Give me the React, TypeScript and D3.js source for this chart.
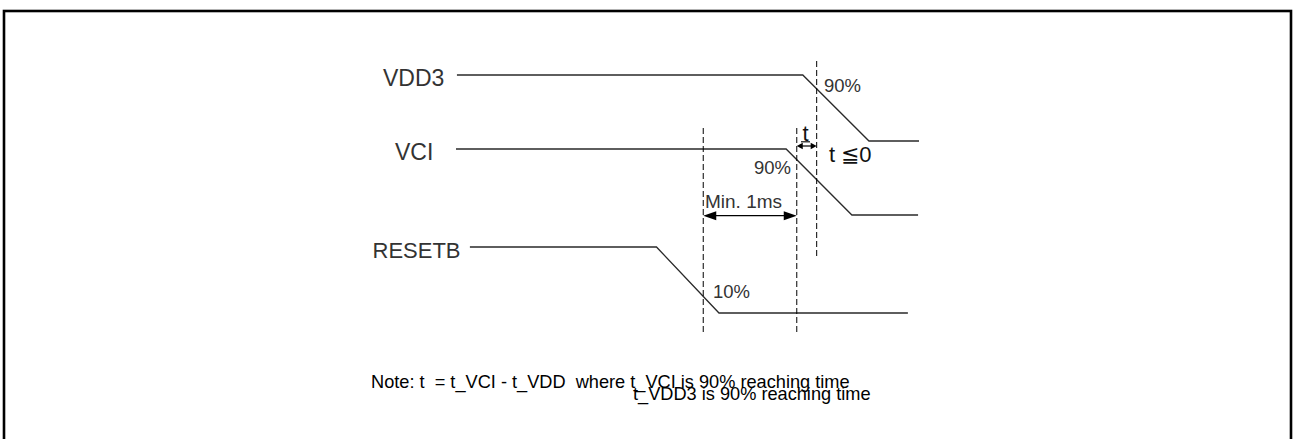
import React from "react";
import * as d3 from "d3";

// ---- data (time in arbitrary units, level 1 = high, 0 = low) ----
const signalNames = ["VDD3", "VCI", "RESETB"];
const signalTimes = [
  [0.2, 74.9, 89.2, 100],
  [0, 71.3, 85.5, 99.8],
  [3.0, 43.3, 56.8, 97.6],
];
const signalLevels = [1, 1, 0, 0];
const markerTimes = [53.4, 73.6, 77.9]; // RESETB 10%, VCI 90%, VDD3 90%
const levelLabels = ["90%", "90%", "10%"];
const noteLines = [
  "Note: t  = t_VCI - t_VDD  where t_VCI is 90% reaching time",
  "t_VDD3 is 90% reaching time",
];

const W = 1294;
const H = 439;

export default function App() {
  const x = d3.scaleLinear().domain([0, 100]).range([456, 919]);
  const rowTop = [75, 149, 247];
  const amp = 66;
  const yRow = (i: number) =>
    d3.scaleLinear().domain([0, 1]).range([rowTop[i] + amp, rowTop[i]]);

  const line = d3.line<[number, number]>();
  const labelX = [383, 395, 372.5];
  const labelSize = [23, 23, 22];
  const labelFont = "'Liberation Sans', Arial, sans-serif";
  const sigStroke = "#2a2a2a";

  const head = (tipX: number, y: number, dir: number, len: number, hw: number) =>
    `M${tipX},${y}L${tipX - dir * len},${y - hw}L${tipX - dir * len},${y + hw}Z`;

  const mA = x(markerTimes[0]);
  const mB = x(markerTimes[1]);
  const mC = x(markerTimes[2]);
  const arrowY = 215.7;
  const tY = 146;

  return (
    <svg
      width={W}
      height={H}
      style={{ position: "absolute", left: 0, top: 0, display: "block", background: "#fff" }}
    >
      <rect x={4} y={11} width={1287} height={460} fill="none" stroke="#000" strokeWidth={2.6} />

      {signalNames.map((name, i) => {
        const y = yRow(i);
        const pts = signalTimes[i].map((t, j) => [x(t), y(signalLevels[j])] as [number, number]);
        return (
          <g key={name}>
            <path d={line(pts) || ""} fill="none" stroke={sigStroke} strokeWidth={1.3} />
            <text
              x={labelX[i]}
              y={rowTop[i] + 11}
              fontFamily={labelFont}
              fontSize={labelSize[i]}
              fill="#333"
            >
              {name}
            </text>
          </g>
        );
      })}

      {/* dashed markers */}
      <line x1={mA} x2={mA} y1={128} y2={332} stroke="#000" strokeWidth={1} strokeDasharray="6,3" />
      <line x1={mB} x2={mB} y1={128} y2={332} stroke="#000" strokeWidth={1} strokeDasharray="6,3" />
      <line x1={mC} x2={mC} y1={61} y2={259} stroke="#000" strokeWidth={1} strokeDasharray="6,3" />

      {/* level labels */}
      <text x={824} y={92} fontFamily={labelFont} fontSize={18.5} fill="#333">{levelLabels[0]}</text>
      <text x={791} y={174} textAnchor="end" fontFamily={labelFont} fontSize={18.5} fill="#333">{levelLabels[1]}</text>
      <text x={713} y={298} fontFamily={labelFont} fontSize={18.5} fill="#333">{levelLabels[2]}</text>

      {/* Min. 1ms arrow */}
      <line x1={mA + 10} x2={mB - 10} y1={arrowY} y2={arrowY} stroke="#000" strokeWidth={1.3} />
      <path d={head(mA, arrowY, -1, 13, 4.5)} fill="#000" />
      <path d={head(mB, arrowY, 1, 13, 4.5)} fill="#000" />
      <text x={705} y={208} fontFamily={labelFont} fontSize={19} fill="#333">Min. 1ms</text>

      {/* t arrow */}
      <line x1={mB + 4} x2={mC - 4} y1={tY} y2={tY} stroke="#000" strokeWidth={1.2} />
      <path d={head(mB, tY, -1, 6, 3.2)} fill="#000" />
      <path d={head(mC, tY, 1, 6, 3.2)} fill="#000" />
      <text x={805.5} y={141} textAnchor="middle" fontFamily={labelFont} fontSize={22} fill="#111">t</text>
      <line x1={801} x2={810} y1={141.8} y2={141.8} stroke="#111" strokeWidth={1.2} />
      <text x={829} y={162} fontFamily={labelFont} fontSize={22} fill="#111">t ≦0</text>

      {/* note */}
      <text x={371} y={387.7} fontFamily={labelFont} fontSize={18.2} fill="#000" style={{ whiteSpace: "pre" }}>{noteLines[0]}</text>
      <text x={633} y={400} fontFamily={labelFont} fontSize={18.2} fill="#000" style={{ whiteSpace: "pre" }}>{noteLines[1]}</text>
    </svg>
  );
}
